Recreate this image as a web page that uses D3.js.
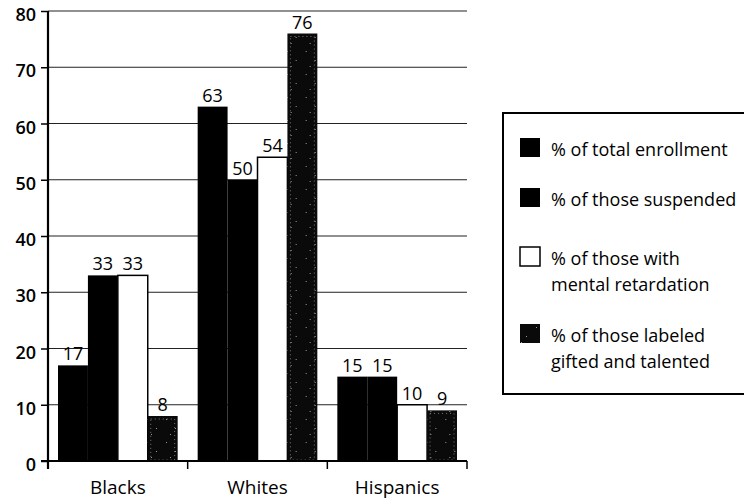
<!DOCTYPE html>
<html><head><meta charset="utf-8">
<script src="https://cdn.jsdelivr.net/npm/d3@7"></script>
<style>body{margin:0;background:#fff}svg{display:block}text{font-family:"Open Sans",sans-serif;fill:#000}</style>
</head><body><svg id="c" width="744" height="504"></svg>
<script>
const categories = ["Blacks", "Whites", "Hispanics"];
const seriesNames = ["% of total enrollment", "% of those suspended", "% of those with mental retardation", "% of those labeled gifted and talented"];
const legendLines = [["% of total enrollment"], ["% of those suspended"], ["% of those with", "mental retardation"], ["% of those labeled", "gifted and talented"]];
const enrollment = [17, 63, 15];
const suspended = [33, 50, 15];
const retardation = [33, 54, 10];
const gifted = [8, 76, 9];
const yTicks = [0, 10, 20, 30, 40, 50, 60, 70, 80];

(function(){
const seriesValues = [enrollment, suspended, retardation, gifted];
const svg = d3.select("#c");
const defs = svg.append("defs");
const pat = defs.append("pattern").attr("id","spk").attr("patternUnits","userSpaceOnUse").attr("width",19).attr("height",23);
pat.append("rect").attr("width",19).attr("height",23).attr("fill","#0a0a0a");
[[4,5],[13,14],[8,20]].forEach(p=>pat.append("rect").attr("x",p[0]).attr("y",p[1]).attr("width",1).attr("height",1).attr("fill","#999"));
const fills = ["#000", "#000", "#fff", "url(#spk)"];

const mL = 48, mR = 467, mT = 11, mB = 461;
const x0 = d3.scaleBand().domain(categories).range([mL, mR]).padding(0);
const x1 = d3.scaleBand().domain(d3.range(4)).range([10, x0.bandwidth() - 10]).padding(0);
const y = d3.scaleLinear().domain([0, 80]).range([mB, mT]);

svg.append("g").selectAll("line").data(yTicks.filter(d=>d>0)).join("line")
  .attr("x1", mL).attr("x2", mR).attr("y1", d=>y(d)).attr("y2", d=>y(d))
  .attr("stroke", "#222").attr("stroke-width", 1.2);

const g = svg.append("g").selectAll("g").data(categories).join("g")
  .attr("transform", d=>`translate(${x0(d)},0)`);
g.selectAll("rect.bar").data((c,ci)=>seriesValues.map((s,si)=>({si, v:s[ci]}))).join("rect")
  .attr("class","bar")
  .attr("x", d=>x1(d.si)).attr("width", x1.bandwidth())
  .attr("y", d=>y(d.v)).attr("height", d=>y(0)-y(d.v))
  .attr("fill", d=>fills[d.si])
  .attr("stroke", d=>d.si===2?"#000":"none").attr("stroke-width", 1.5);
g.selectAll("rect.inner").data((c,ci)=>[{v:gifted[ci]}]).join("rect")
  .attr("class","inner").attr("x", x1(3)+3).attr("width", x1.bandwidth()-6)
  .attr("y", d=>y(d.v)+3).attr("height", d=>y(0)-y(d.v)-4)
  .attr("fill","none").attr("stroke","#aaa").attr("stroke-width",0.7).attr("stroke-dasharray","1 3");
g.selectAll("text").data((c,ci)=>seriesValues.map((s,si)=>({si, v:s[ci]}))).join("text")
  .attr("x", d=>x1(d.si)+x1.bandwidth()/2).attr("y", d=>y(d.v)-5)
  .attr("text-anchor","middle").attr("font-size",18).text(d=>d.v);

const ya = svg.append("g").attr("transform",`translate(${mL},0)`)
  .call(d3.axisLeft(y).tickValues(yTicks).tickSize(7).tickPadding(5).tickFormat(d3.format("d")));
ya.select(".domain").remove();
ya.selectAll(".tick line").attr("stroke","#000").attr("stroke-width",1.5);
ya.selectAll(".tick text").attr("font-size",18).attr("font-family","Open Sans").attr("fill","#000").attr("font-weight",600).attr("dy","0.53em");
svg.append("line").attr("x1",mL).attr("x2",mL).attr("y1",mT).attr("y2",mB+8).attr("stroke","#000").attr("stroke-width",2.2);

svg.append("line").attr("x1",mL-7).attr("x2",mR).attr("y1",mB).attr("y2",mB).attr("stroke","#000").attr("stroke-width",2.2);
const bounds = categories.map(c=>x0(c)+x0.bandwidth());
svg.append("g").selectAll("line").data(bounds).join("line")
  .attr("x1",d=>d).attr("x2",d=>d).attr("y1",mB).attr("y2",mB+8).attr("stroke","#000").attr("stroke-width",1.5);
svg.append("g").selectAll("text").data(categories).join("text")
  .attr("x", d=>x0(d)+x0.bandwidth()/2).attr("y", 494)
  .attr("text-anchor","middle").attr("font-size",19).text(d=>d);

const lg = svg.append("g");
lg.append("path").attr("d","M745,113 H503 V394 H745").attr("fill","none").attr("stroke","#000").attr("stroke-width",2);
const legY = [138, 188, 247, 324];
seriesNames.forEach((n,i)=>{
  lg.append("rect").attr("x",520).attr("y",legY[i]).attr("width",20).attr("height",19)
    .attr("fill",fills[i]).attr("stroke", i===2?"#000":"none").attr("stroke-width",1.5);
  const t = lg.append("text").attr("x",551).attr("y",legY[i]+18).attr("font-size",18);
  legendLines[i].forEach((l,k)=>t.append("tspan").attr("x",551).attr("dy",k?26:0).text(l));
});
})();
</script></body></html>
